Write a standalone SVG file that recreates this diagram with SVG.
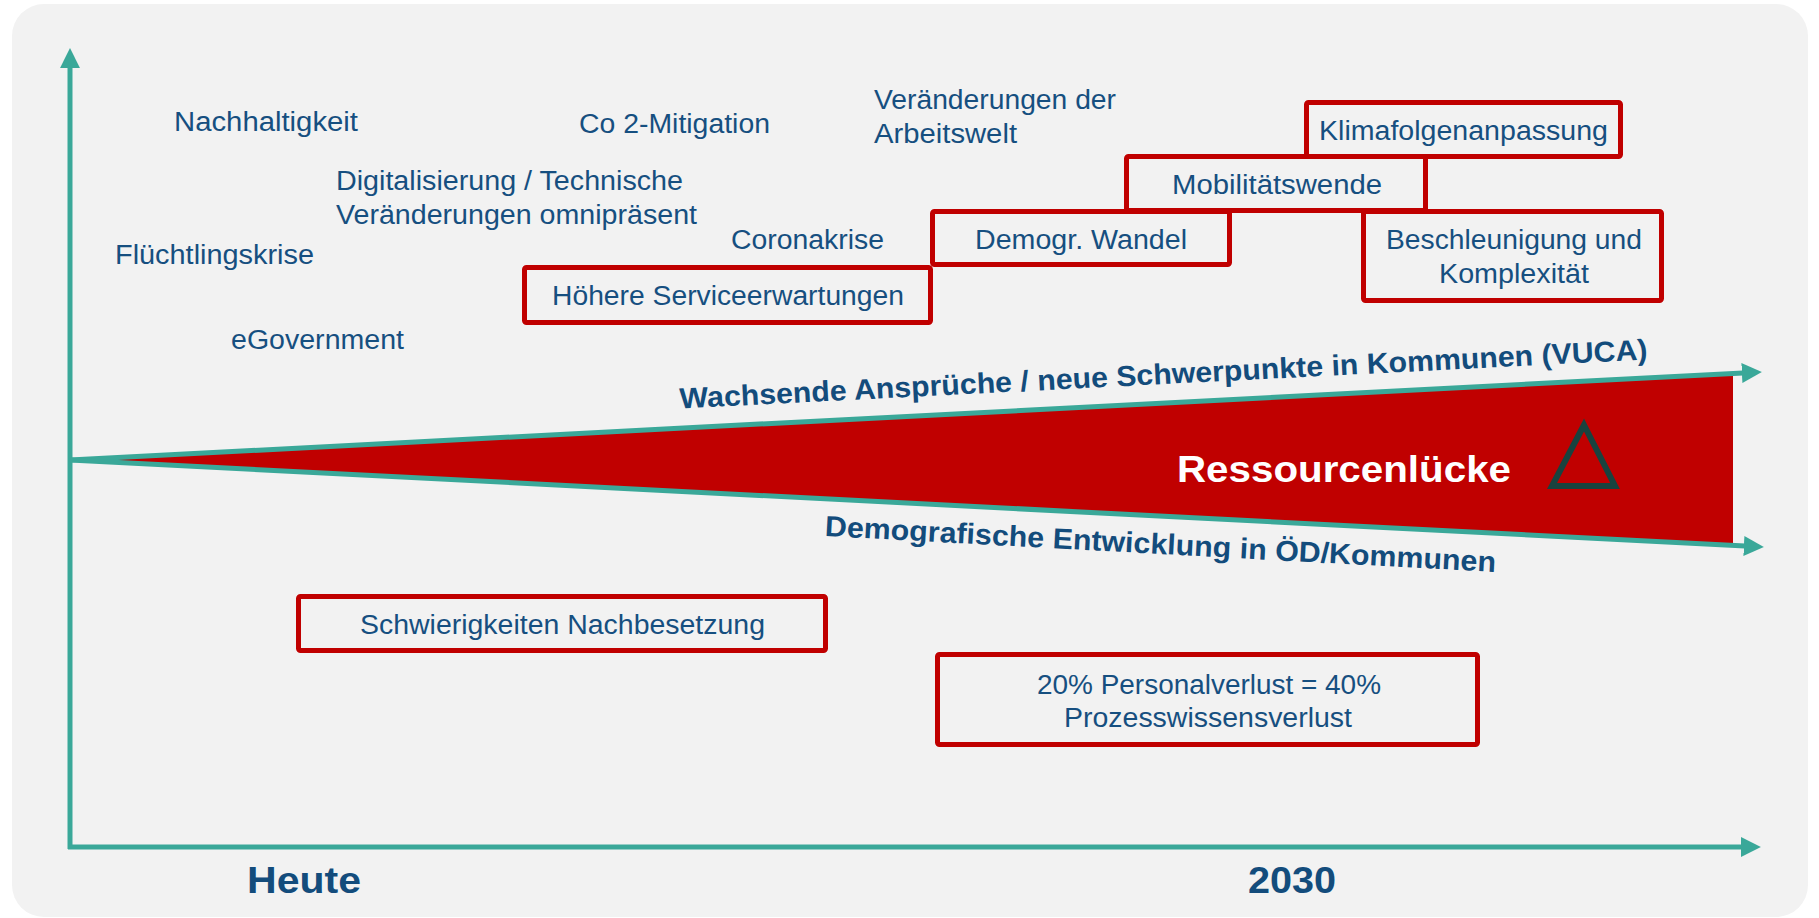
<svg xmlns="http://www.w3.org/2000/svg" width="1819" height="918" viewBox="0 0 1819 918">
<defs>
<style>
.t{font-family:"Liberation Sans",Arial,sans-serif;font-size:27px;fill:#164F80}
.b{font-family:"Liberation Sans",Arial,sans-serif;font-weight:bold;fill:#134C7C}
.box{fill:none;stroke:#C00000;stroke-width:5}
.ax{stroke:#3AA899;stroke-width:5;fill:none}
</style>
<marker id="ah" markerUnits="userSpaceOnUse" markerWidth="20" markerHeight="20" viewBox="0 0 18 18" refX="1" refY="9" orient="auto">
<path d="M0,0 L18,9 L0,18 z" fill="#3AA899"/>
</marker>
</defs>
<rect x="0" y="0" width="1819" height="918" fill="#ffffff"/>
<rect x="12" y="4" width="1796" height="913" rx="32" fill="#F2F2F2"/>

<g id="gap">
<polygon points="70,460 1733,373 1733,546" fill="#C00000"/>
<text class="b" x="1344" y="482" font-size="37" style="fill:#ffffff" text-anchor="middle" textLength="334" lengthAdjust="spacingAndGlyphs">Ressourcenlücke</text>
<polygon points="1584,425 1552,486 1615,486" fill="none" stroke="#18433F" stroke-width="6"/>
</g>

<g id="connectors">
<line class="ax" x1="70" y1="849" x2="70" y2="67" marker-end="url(#ah)"/>
<line class="ax" x1="68" y1="847" x2="1742" y2="847" marker-end="url(#ah)"/>
<line class="ax" x1="70" y1="460" x2="1743" y2="372.9" marker-end="url(#ah)"/>
<line class="ax" x1="70" y1="460" x2="1745" y2="546.1" marker-end="url(#ah)"/>
</g>

<g id="label-wachsend">
<text class="b" font-size="29" text-anchor="middle" x="1164" y="384" transform="rotate(-2.9 1164 384)" textLength="969" lengthAdjust="spacingAndGlyphs">Wachsende Ansprüche / neue Schwerpunkte in Kommunen (VUCA)</text>
</g>
<g id="label-demografie">
<text class="b" font-size="29" text-anchor="middle" x="1160" y="554" transform="rotate(3.07 1160 554)" textLength="672" lengthAdjust="spacingAndGlyphs">Demografische Entwicklung in ÖD/Kommunen</text>
</g>

<g id="nachhaltigkeit"><text class="t" x="174" y="131" textLength="184" lengthAdjust="spacingAndGlyphs">Nachhaltigkeit</text></g>
<g id="co2"><text class="t" x="579" y="133" textLength="191" lengthAdjust="spacingAndGlyphs">Co 2-Mitigation</text></g>
<g id="arbeitswelt">
<text class="t" x="874" y="109" textLength="242" lengthAdjust="spacingAndGlyphs">Veränderungen der</text>
<text class="t" x="874" y="143" textLength="143" lengthAdjust="spacingAndGlyphs">Arbeitswelt</text>
</g>
<g id="digitalisierung">
<text class="t" x="336" y="190" textLength="347" lengthAdjust="spacingAndGlyphs">Digitalisierung / Technische</text>
<text class="t" x="336" y="224" textLength="361" lengthAdjust="spacingAndGlyphs">Veränderungen omnipräsent</text>
</g>
<g id="fluechtlingskrise"><text class="t" x="115" y="264" textLength="199" lengthAdjust="spacingAndGlyphs">Flüchtlingskrise</text></g>
<g id="coronakrise"><text class="t" x="731" y="249" textLength="153" lengthAdjust="spacingAndGlyphs">Coronakrise</text></g>
<g id="egovernment"><text class="t" x="231" y="349" textLength="173" lengthAdjust="spacingAndGlyphs">eGovernment</text></g>

<g id="service">
<rect class="box" x="524.5" y="267.5" width="406" height="55" rx="2"/>
<text class="t" x="552" y="305" textLength="352" lengthAdjust="spacingAndGlyphs">Höhere Serviceerwartungen</text>
</g>
<g id="demogr">
<rect class="box" x="932.5" y="211.5" width="297" height="53" rx="2"/>
<text class="t" x="975" y="249" textLength="212" lengthAdjust="spacingAndGlyphs">Demogr. Wandel</text>
</g>
<g id="mobilitaet">
<rect class="box" x="1126.5" y="156.5" width="299" height="54" rx="2"/>
<text class="t" x="1172" y="194" textLength="210" lengthAdjust="spacingAndGlyphs">Mobilitätswende</text>
</g>
<g id="klima">
<rect class="box" x="1306.5" y="102.5" width="314" height="54" rx="2"/>
<text class="t" x="1319" y="140" textLength="289" lengthAdjust="spacingAndGlyphs">Klimafolgenanpassung</text>
</g>
<g id="beschleunigung">
<rect class="box" x="1363.5" y="211.5" width="298" height="89" rx="2"/>
<text class="t" x="1386" y="249" textLength="256" lengthAdjust="spacingAndGlyphs">Beschleunigung und</text>
<text class="t" x="1439" y="283" textLength="150" lengthAdjust="spacingAndGlyphs">Komplexität</text>
</g>
<g id="nachbesetzung">
<rect class="box" x="298.5" y="596.5" width="527" height="54" rx="2"/>
<text class="t" x="360" y="634" textLength="405" lengthAdjust="spacingAndGlyphs">Schwierigkeiten Nachbesetzung</text>
</g>
<g id="personalverlust">
<rect class="box" x="937.5" y="654.5" width="540" height="90" rx="2"/>
<text class="t" x="1037" y="694" textLength="344" lengthAdjust="spacingAndGlyphs">20% Personalverlust = 40%</text>
<text class="t" x="1064" y="727" textLength="288" lengthAdjust="spacingAndGlyphs">Prozesswissensverlust</text>
</g>

<g id="heute"><text class="b" x="247" y="893" font-size="37" textLength="114" lengthAdjust="spacingAndGlyphs">Heute</text></g>
<g id="y2030"><text class="b" x="1248" y="893" font-size="37" textLength="88" lengthAdjust="spacingAndGlyphs">2030</text></g>
</svg>
